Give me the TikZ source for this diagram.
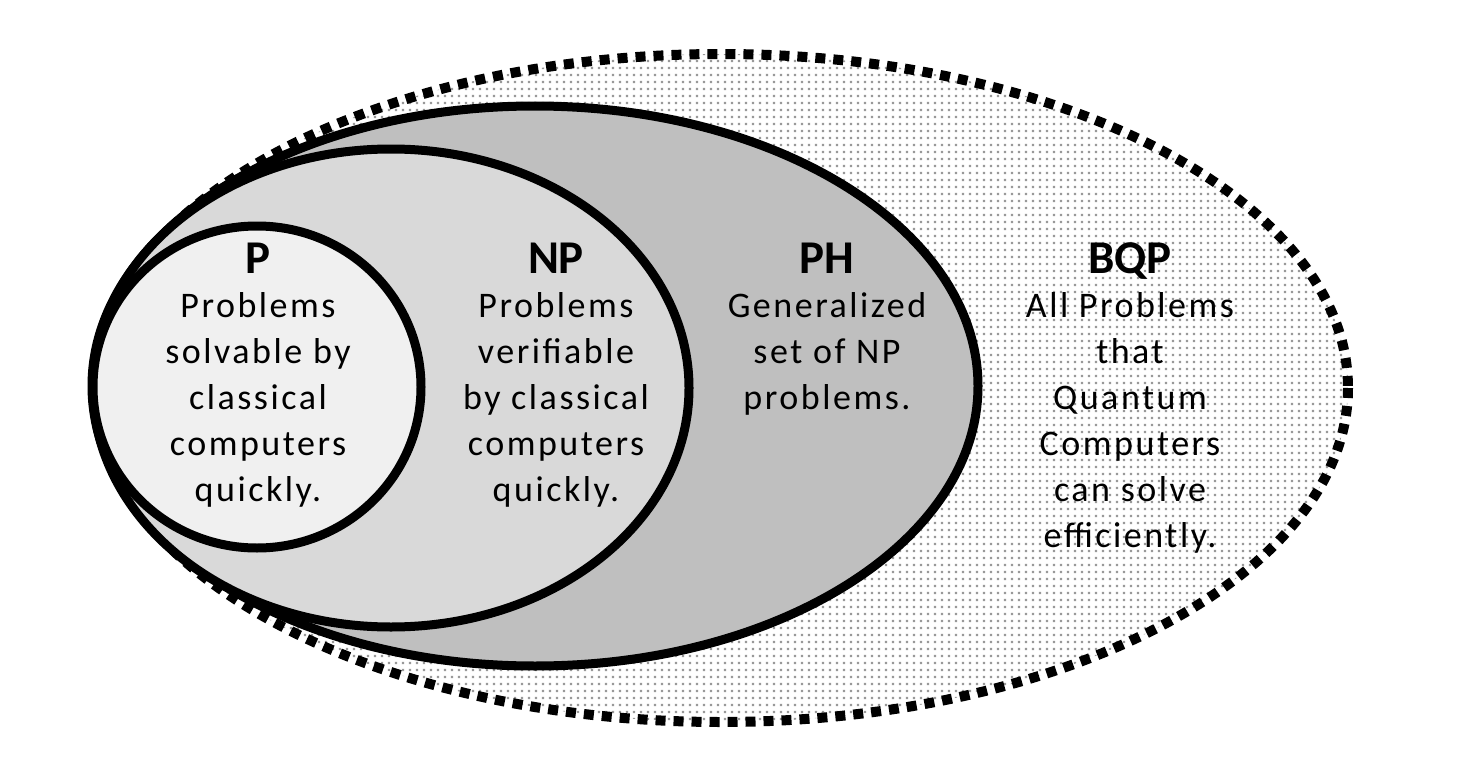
\documentclass[tikz,border=0pt]{standalone}
\usepackage{fontspec}
\setmainfont{Carlito}
\newfontfamily\handfont[LetterSpace=7]{Carlito}
\usetikzlibrary{patterns}
\pgfdeclarepatternformonly{bqpdots}{\pgfpointorigin}{\pgfpoint{6.6pt}{6.6pt}}{\pgfpoint{6.6pt}{6.6pt}}{%
  \pgfpathrectangle{\pgfpoint{2.1pt}{2.1pt}}{\pgfpoint{2.4pt}{2.4pt}}\pgfusepath{fill}}
\definecolor{pfill}{HTML}{F0F0F0}
\definecolor{npfill}{HTML}{D9D9D9}
\definecolor{phfill}{HTML}{BFBFBF}
\definecolor{dotgray}{HTML}{999999}
\tikzset{
  setline/.style={line width=9pt, draw=black},
  titletext/.style={font=\bfseries\fontsize{47}{47}\selectfont, anchor=base, inner sep=0pt},
  bodytext/.style={font=\handfont\fontsize{36}{46}\selectfont, anchor=base, inner sep=0pt},
}
\begin{document}
\begin{tikzpicture}[x=1pt,y=-1pt]
\useasboundingbox (0,0) rectangle (1460,768);
% BQP
\fill[white] (721,388) ellipse [x radius=627, y radius=334];
\fill[pattern=bqpdots, pattern color=dotgray] (721,388) ellipse [x radius=627, y radius=334];
\draw[line width=10pt, dash pattern=on 10pt off 8pt] (721,388) ellipse [x radius=627, y radius=334];
% PH
\draw[setline, fill=phfill] (535,386) ellipse [x radius=443, y radius=280];
% NP
\draw[setline, fill=npfill] (391,388) ellipse [x radius=298, y radius=239];
% P
\draw[setline, fill=pfill] (257,387) ellipse [x radius=164, y radius=161];
% P text
\node[titletext] (pt) at (258,273) {P};
\node[bodytext] (p1) at (258,317) {Problems};
\node[bodytext] (p2) at (258,363) {solvable by};
\node[bodytext] (p3) at (258,409) {classical};
\node[bodytext] (p4) at (258,455) {computers};
\node[bodytext] (p5) at (258,501) {quickly.};
% NP text
\node[titletext] (npt) at (556,273) {NP};
\node[bodytext] (np1) at (556,317) {Problems};
\node[bodytext] (np2) at (556,363) {verifiable};
\node[bodytext] (np3) at (556,409) {by classical};
\node[bodytext] (np4) at (556,455) {computers};
\node[bodytext] (np5) at (556,501) {quickly.};
% PH text
\node[titletext] (pht) at (827,273) {PH};
\node[bodytext] (ph1) at (827,317) {Generalized};
\node[bodytext] (ph2) at (827,363) {set of NP};
\node[bodytext] (ph3) at (827,409) {problems.};
% BQP text
\node[titletext] (bqpt) at (1130,273) {BQP};
\node[bodytext] (b1) at (1130,317) {All Problems};
\node[bodytext] (b2) at (1130,363) {that};
\node[bodytext] (b3) at (1130,409) {Quantum};
\node[bodytext] (b4) at (1130,455) {Computers};
\node[bodytext] (b5) at (1130,501) {can solve};
\node[bodytext] (b6) at (1130,547) {efficiently.};
\end{tikzpicture}
\end{document}
